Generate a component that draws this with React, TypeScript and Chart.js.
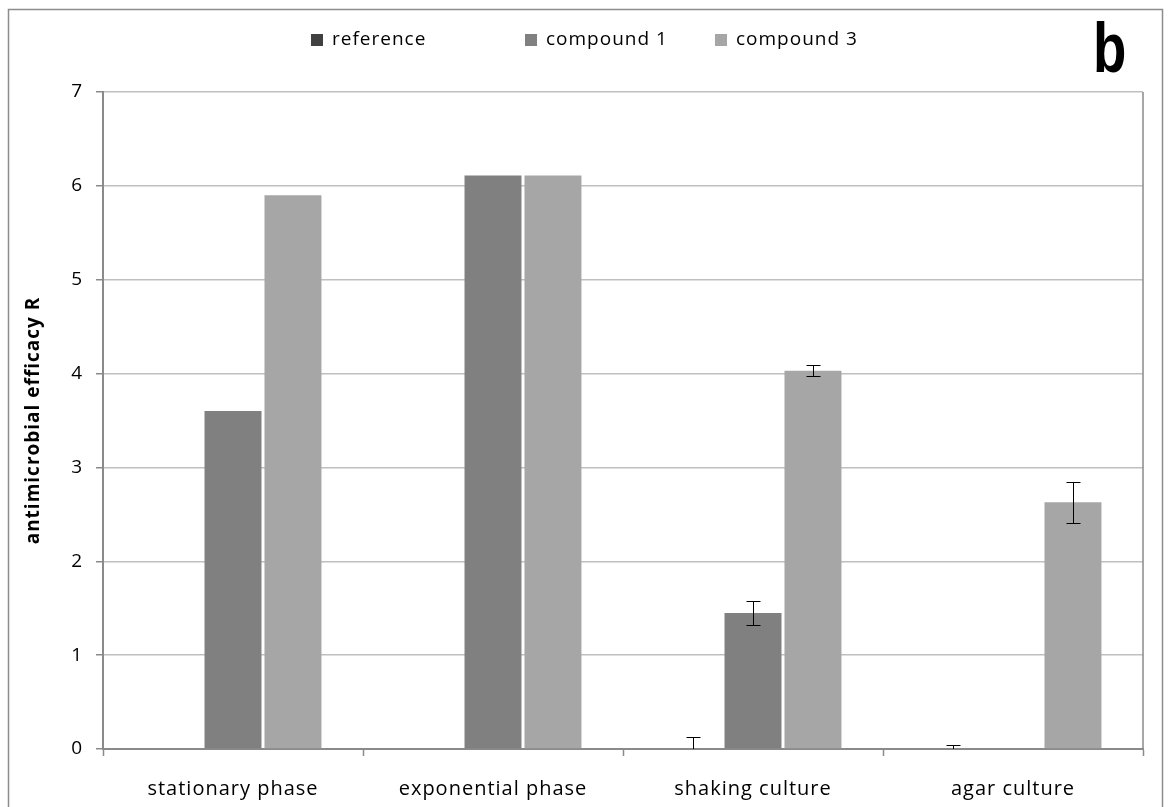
import React, { useEffect, useRef } from "react";
import { Chart, registerables } from "chart.js";

Chart.register(...registerables);

const categories = ["stationary phase", "exponential phase", "shaking culture", "agar culture"];
const seriesNames = ["reference", "compound 1", "compound 3"];
const referenceValues = [0, 0, 0, 0];
const compound1Values = [3.6, 6.11, 1.45, 0];
const compound3Values = [5.9, 6.11, 4.03, 2.63];
const referenceErrors = [0, 0, 0.13, 0.04];
const compound1Errors = [0, 0, 0.13, 0];
const compound3Errors = [0, 0, 0.06, 0.22];
const yTicks = [0, 1, 2, 3, 4, 5, 6, 7];
const panelLabel = "b";

const colors = ["#404040", "#808080", "#a6a6a6"];
const FONT = "'Open Sans', 'Noto Sans', sans-serif";

const overlayPlugin = {
  id: "overlay",
  beforeUpdate(chart: any) {
    chart.ctx.letterSpacing = "1px";
  },
  beforeDraw(chart: any) {
    const ctx = chart.ctx;
    ctx.letterSpacing = "1px";
    ctx.save();
    ctx.fillStyle = "#ffffff";
    ctx.fillRect(0, 0, chart.width, chart.height);
    ctx.restore();
  },
  afterDatasetsDraw(chart: any) {
    const ctx = chart.ctx;
    const ca = chart.chartArea;
    const y = chart.scales.y;
    ctx.save();
    ctx.beginPath();
    ctx.rect(ca.left, ca.top - 20, ca.right - ca.left, ca.bottom - ca.top + 20);
    ctx.clip();
    ctx.strokeStyle = "#000000";
    ctx.lineWidth = 1;
    const errs = [referenceErrors, compound1Errors, compound3Errors];
    chart.data.datasets.forEach((ds: any, di: number) => {
      const meta = chart.getDatasetMeta(di);
      meta.data.forEach((bar: any, i: number) => {
        const e = errs[di][i];
        if (!e) return;
        const v = ds.data[i];
        const x = Math.round(bar.x) + 0.5;
        const yHi = Math.round(y.getPixelForValue(v + e)) + 0.5;
        const yLo = Math.round(y.getPixelForValue(v - e)) + 0.5;
        ctx.beginPath();
        ctx.moveTo(x, yHi);
        ctx.lineTo(x, yLo);
        ctx.moveTo(x - 7, yHi);
        ctx.lineTo(x + 7, yHi);
        ctx.moveTo(x - 7, yLo);
        ctx.lineTo(x + 7, yLo);
        ctx.stroke();
      });
    });
    ctx.restore();
  },
  afterDraw(chart: any) {
    const ctx = chart.ctx;
    const ca = chart.chartArea;
    ctx.save();
    // plot right border
    ctx.strokeStyle = "#8a8a8a";
    ctx.lineWidth = 1.5;
    ctx.beginPath();
    ctx.moveTo(ca.right, ca.top);
    ctx.lineTo(ca.right, ca.bottom);
    ctx.stroke();
    // outer frame
    ctx.strokeStyle = "#8c8c8c";
    ctx.lineWidth = 1.5;
    ctx.strokeRect(8.5, 9.5, 1154, 850);
    // legend
    const legendX = [311, 525, 715];
    ctx.font = `19px ${FONT}`;
    ctx.textBaseline = "middle";
    ctx.textAlign = "left";
    seriesNames.forEach((n, i) => {
      ctx.fillStyle = colors[i];
      ctx.fillRect(legendX[i], 34, 12, 12);
      ctx.fillStyle = "#000";
      ctx.fillText(n, legendX[i] + 21, 40);
    });
    // panel label
    ctx.letterSpacing = "0px";
    ctx.fillStyle = "#000";
    ctx.textBaseline = "alphabetic";
    ctx.textAlign = "left";
    ctx.save();
    ctx.translate(1093, 72);
    ctx.scale(0.78, 1);
    ctx.font = `bold 70px 'Liberation Sans', Arial, sans-serif`;
    ctx.fillText(panelLabel, 0, 0);
    ctx.restore();
    ctx.restore();
    ctx.letterSpacing = "1px";
  },
};

export default function App() {
  const ref = useRef<HTMLCanvasElement | null>(null);
  useEffect(() => {
    if (!ref.current) return;
    const chart = new Chart(ref.current, {
      type: "bar",
      data: {
        labels: categories,
        datasets: [referenceValues, compound1Values, compound3Values].map((d, i) => ({
          label: seriesNames[i],
          data: d,
          backgroundColor: colors[i],
          borderWidth: 0,
          categoryPercentage: 0.692,
          barPercentage: 0.95,
        })),
      },
      options: {
        animation: false,
        responsive: true,
        maintainAspectRatio: false,
        layout: { padding: { top: 92, right: 25, left: 0, bottom: 0 } },
        plugins: {
          legend: { display: false },
          tooltip: { enabled: false },
        },
        scales: {
          x: {
            grid: {
              drawOnChartArea: false,
              drawTicks: true,
              tickLength: 7,
              tickColor: "#8a8a8a",
              tickWidth: 1.5,
              offset: true,
            },
            border: { color: "#8a8a8a", width: 2 },
            ticks: {
              color: "#000",
              font: { family: FONT, size: 20 },
              padding: 21,
            },
            afterFit(scale: any) {
              scale.height = 58;
            },
          },
          y: {
            min: 0,
            max: 7,
            afterBuildTicks(scale: any) {
              scale.ticks = yTicks.map((v) => ({ value: v }));
            },
            grid: {
              color: "#bfbfbf",
              lineWidth: 1.5,
              tickLength: 7,
              tickColor: "#8a8a8a",
              tickWidth: 1.5,
            },
            border: { color: "#8a8a8a", width: 2 },
            ticks: {
              color: "#000",
              font: { family: FONT, size: 19 },
              padding: 13,
            },
            title: {
              display: true,
              text: "antimicrobial efficacy R",
              color: "#000",
              font: { family: FONT, size: 19, weight: "bold" },
              padding: { top: 22, bottom: 0 },
            },
            afterFit(scale: any) {
              scale.width = 103;
            },
          },
        },
      },
      plugins: [overlayPlugin],
    });
    return () => chart.destroy();
  }, []);
  return (
    <div style={{ position: "absolute", left: 0, top: 0, width: 1168, height: 807 }}>
      <canvas ref={ref} />
    </div>
  );
}
